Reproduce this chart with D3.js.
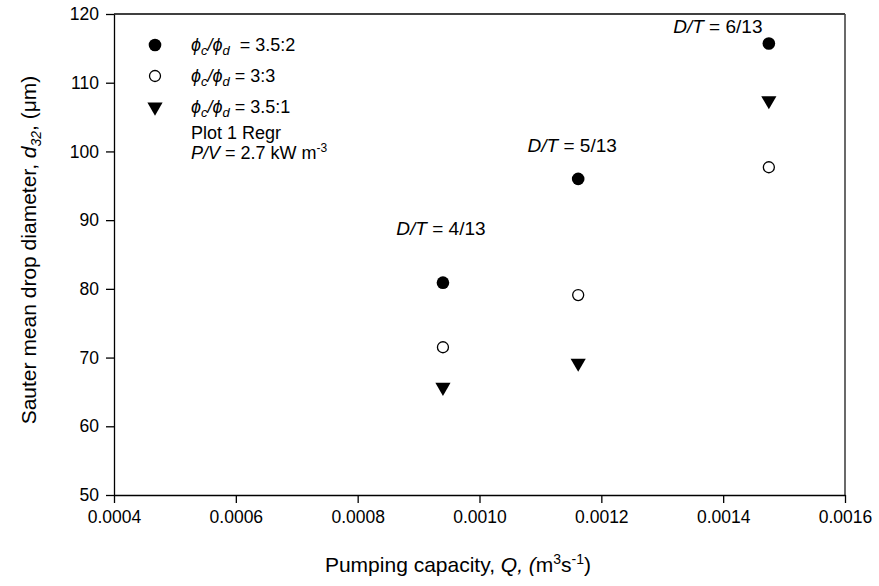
<!DOCTYPE html>
<html>
<head>
<meta charset="utf-8">
<script src="https://cdn.jsdelivr.net/npm/d3@7"></script>
<style>
  html, body { margin: 0; padding: 0; background: #fff; }
  svg { display: block; font-family: "Liberation Sans", Arial, sans-serif; }
</style>
</head>
<body>
<svg id="chart" width="879" height="586"></svg>
<script>
// Pumping capacity Q (m^3 s^-1) for the three impeller sizes
const pumping = [0.00094, 0.001162, 0.001475];
const impellerLabels = ["4/13", "5/13", "6/13"];
// Sauter mean drop diameter d32 (µm) per phase ratio
const d32_35_2 = [80.9, 96.0, 115.7];
const d32_3_3 = [71.5, 79.1, 97.7];
const d32_35_1 = [65.7, 69.2, 107.4];
// Axis ticks
const xTicks = [0.0004, 0.0006, 0.0008, 0.0010, 0.0012, 0.0014, 0.0016];
const yTicks = [50, 60, 70, 80, 90, 100, 110, 120];

const svg = d3.select("#chart");
const m = { left: 114, right: 845, top: 14, bottom: 495 };

const x = d3.scaleLinear().domain([0.0004, 0.0016]).range([m.left, m.right]);
const y = d3.scaleLinear().domain([50, 120]).range([m.bottom, m.top]);

// frame: top and right borders
svg.append("line").attr("x1", m.left).attr("x2", m.right).attr("y1", m.top).attr("y2", m.top)
  .attr("stroke", "#000").attr("stroke-width", 1.3);
svg.append("line").attr("x1", m.right).attr("x2", m.right).attr("y1", m.top).attr("y2", m.bottom)
  .attr("stroke", "#444").attr("stroke-width", 1.6);

// axes
const xAxis = svg.append("g").attr("transform", `translate(0,${m.bottom})`)
  .call(d3.axisBottom(x).tickValues(xTicks).tickFormat(d3.format(".4f")).tickSizeOuter(0).tickSizeInner(8).tickPadding(8));
const yAxis = svg.append("g").attr("transform", `translate(${m.left},0)`)
  .call(d3.axisLeft(y).tickValues(yTicks).tickSizeOuter(0).tickSizeInner(8).tickPadding(7));
[xAxis, yAxis].forEach(g => {
  g.attr("font-size", 17.5).attr("font-family", "'Liberation Sans', Arial, sans-serif");
  g.select(".domain").attr("stroke", "#000").attr("stroke-width", 1.3);
  g.selectAll(".tick line").attr("stroke", "#000").attr("stroke-width", 1.3);
  g.selectAll(".tick text").attr("fill", "#000");
});

// markers
const tri = d3.symbol().type(d3.symbolTriangle).size(100);
function marker(g, cx, cy, kind) {
  if (kind === "filled") {
    g.append("circle").attr("cx", cx).attr("cy", cy).attr("r", 6.3).attr("fill", "#000");
  } else if (kind === "open") {
    g.append("circle").attr("cx", cx).attr("cy", cy).attr("r", 5.5)
      .attr("fill", "#fff").attr("stroke", "#000").attr("stroke-width", 1.3);
  } else {
    g.append("path").attr("d", tri).attr("fill", "#000")
      .attr("transform", `translate(${cx},${cy}) rotate(180)`);
  }
}
function drawSeries(vals, kind) {
  const g = svg.append("g");
  vals.forEach((v, i) => marker(g, x(pumping[i]), y(v), kind));
}
drawSeries(d32_35_2, "filled");
drawSeries(d32_3_3, "open");
drawSeries(d32_35_1, "tri");

// D/T annotations above each group
const annotOffsets = [[-2, -48], [-6, -27], [-51, -11]];
impellerLabels.forEach((lab, i) => {
  const t = svg.append("text")
    .attr("x", x(pumping[i]) + annotOffsets[i][0])
    .attr("y", y(d32_35_2[i]) + annotOffsets[i][1])
    .attr("text-anchor", "middle").attr("font-size", 19).attr("fill", "#000");
  t.append("tspan").attr("font-style", "italic").text("D/T");
  t.append("tspan").text(" = " + lab);
});

// legend
const legend = svg.append("g");
const lx = 155, lt = 191;
const legRows = [
  { y: 45, kind: "filled", ratio: "3.5:2", gap: "  = " },
  { y: 76, kind: "open", ratio: "3:3", gap: " = " },
  { y: 107, kind: "tri", ratio: "3.5:1", gap: " = " }
];
legRows.forEach(r => {
  marker(legend, lx, r.y, r.kind);
  const t = legend.append("text").attr("x", lt).attr("y", r.y + 6).attr("font-size", 18).attr("fill", "#000")
    .attr("xml:space", "preserve");
  t.append("tspan").attr("font-style", "italic").text("\u03D5");
  t.append("tspan").attr("font-style", "italic").attr("font-size", 13).attr("dy", 4).text("c");
  t.append("tspan").attr("font-style", "italic").attr("dy", -4).text("/\u03D5");
  t.append("tspan").attr("font-style", "italic").attr("font-size", 13).attr("dy", 4).text("d");
  t.append("tspan").attr("dy", -4).text(r.gap + r.ratio);
});
legend.append("text").attr("x", lt).attr("y", 139).attr("font-size", 18).attr("fill", "#000").text("Plot 1 Regr");
const pv = legend.append("text").attr("x", lt).attr("y", 159).attr("font-size", 18).attr("fill", "#000");
pv.append("tspan").attr("font-style", "italic").text("P/V");
pv.append("tspan").text(" = 2.7 kW m");
pv.append("tspan").attr("font-size", 12).attr("dy", -7).text("-3");

// axis titles
const xt = svg.append("text").attr("x", 458).attr("y", 572)
  .attr("text-anchor", "middle").attr("font-size", 21).attr("fill", "#000");
xt.append("tspan").text("Pumping capacity, ");
xt.append("tspan").attr("font-style", "italic").text("Q, (");
xt.append("tspan").text("m");
xt.append("tspan").attr("font-size", 14).attr("dy", -8).text("3");
xt.append("tspan").attr("dy", 8).text("s");
xt.append("tspan").attr("font-size", 14).attr("dy", -8).text("-1");
xt.append("tspan").attr("dy", 8).text(")");

const yt = svg.append("text").attr("transform", "translate(36,250) rotate(-90)")
  .attr("text-anchor", "middle").attr("font-size", 21).attr("fill", "#000");
yt.append("tspan").text("Sauter mean drop diameter, ");
yt.append("tspan").attr("font-style", "italic").text("d");
yt.append("tspan").attr("font-style", "italic").attr("font-size", 14).attr("dy", 5).text("32");
yt.append("tspan").attr("dy", -5).text(", (\u03BCm)");
</script>
</body>
</html>
